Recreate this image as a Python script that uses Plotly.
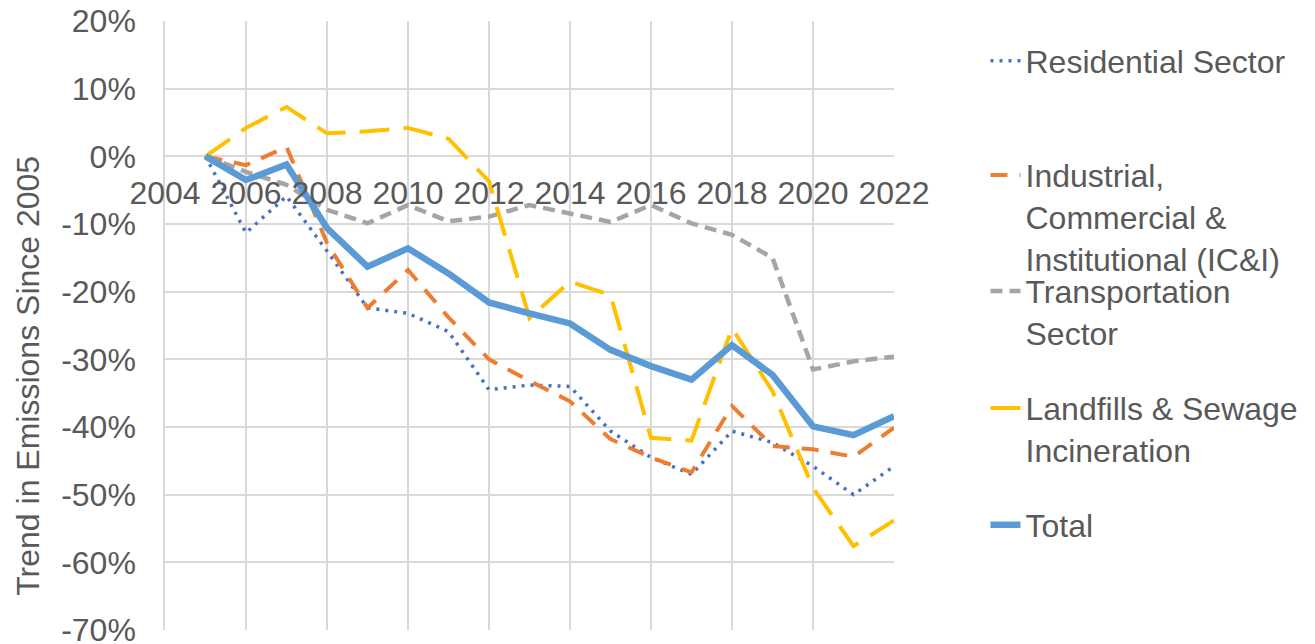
import plotly.graph_objects as go

# Emission trends by sector, percent change relative to 2005
years = list(range(2005, 2023))

residential = [0, -11.3, -5.9, -14.0, -22.4, -23.2, -25.9, -34.5, -33.8, -34.0,
               -40.6, -44.5, -47.0, -40.6, -42.3, -45.8, -50.0, -45.8]
industrial = [0, -1.3, 1.4, -12.8, -22.4, -16.8, -23.8, -30.0, -33.2, -36.2,
              -41.8, -44.5, -46.7, -36.9, -42.8, -43.3, -44.4, -40.1]
transportation = [0, -2.3, -4.2, -7.9, -9.9, -7.2, -9.6, -8.9, -7.2, -8.4,
                  -9.7, -7.2, -9.9, -11.6, -15.0, -31.5, -30.3, -29.6]
landfills = [0, 4.2, 7.3, 3.4, 3.7, 4.2, 2.6, -3.7, -23.9, -18.5,
             -20.5, -41.6, -42.0, -25.4, -34.7, -49.0, -57.6, -53.8]
total = [0, -3.5, -1.2, -10.6, -16.3, -13.6, -17.3, -21.6, -23.2, -24.7,
         -28.6, -31.0, -33.0, -27.9, -32.3, -39.9, -41.2, -38.4]

# Axis ticks (percent values, labelled with a plain hyphen minus)
y_ticks = [-70, -60, -50, -40, -30, -20, -10, 0, 10, 20]
y_tick_labels = ["-70%", "-60%", "-50%", "-40%", "-30%", "-20%", "-10%", "0%", "10%", "20%"]
x_ticks = [2004, 2006, 2008, 2010, 2012, 2014, 2016, 2018, 2020, 2022]

NB = "\u00a0"
series = [
    ("Residential Sector", residential, "#4472C4", 3.5, "3px,6px", "legend"),
    (f"{NB}<br>{NB}<br>Industrial,<br>Commercial &amp;<br>Institutional (IC&amp;I)",
     industrial, "#ED7D31", 4, "17px,12px", "legend2"),
    (f"{NB}<br>Transportation<br>Sector", transportation, "#A5A5A5", 4.5, "12px,7px", "legend3"),
    (f"{NB}<br>Landfills &amp; Sewage<br>Incineration", landfills, "#FFC000", 4, "30px,14px", "legend4"),
    ("Total", total, "#5B9BD5", 6.5, "solid", "legend5"),
]

FONT = "Liberation Sans, Arial, sans-serif"
TXT = "#595959"
GRID = "#D9D9D9"

fig = go.Figure()
for name, vals, color, width, dash, leg in series:
    fig.add_trace(go.Scatter(
        x=years, y=vals, name=name, mode="lines",
        line=dict(color=color, width=width, dash=dash),
        legend=leg,
    ))

# Plot area spans 165..898 px horizontally, 21..630 px vertically
L, R, T, B = 165, 898, 21, 630
W, H = 1315, 644
pw, ph = R - L, B - T

y_min, y_max = y_ticks[0], y_ticks[-1]
zero_pos = (0 - y_min) / (y_max - y_min)


def px_x(px):
    return (px - L) / pw


def px_y(py):
    return (B - py) / ph


legend_common = dict(
    xanchor="left", yanchor="middle", x=px_x(990),
    bgcolor="rgba(0,0,0,0)", borderwidth=0,
    font=dict(family=FONT, size=32, color=TXT),
)
legend_rows = {"legend": 61, "legend2": 175, "legend3": 291, "legend4": 408, "legend5": 525}

fig.update_layout(
    width=W, height=H, autosize=False,
    margin=dict(l=L, r=W - R, t=T, b=H - B, pad=0),
    paper_bgcolor="white", plot_bgcolor="white",
    font=dict(family=FONT, size=32, color=TXT),
    showlegend=True,
    xaxis=dict(
        range=[x_ticks[0], x_ticks[-1]], tickmode="array", tickvals=x_ticks,
        showgrid=True, gridcolor=GRID, gridwidth=1.5,
        showline=False, zeroline=False, ticks="",
        anchor="free", position=zero_pos,
        ticklabelstandoff=15, ticklabeloverflow="allow",
        tickfont=dict(family=FONT, size=32, color=TXT),
        automargin=False,
    ),
    yaxis=dict(
        range=[y_min, y_max], tickmode="array",
        tickvals=y_ticks, ticktext=y_tick_labels,
        showgrid=True, gridcolor=GRID, gridwidth=1.5,
        showline=True, linecolor=GRID, linewidth=1.5,
        zeroline=False, ticks="",
        ticklabelstandoff=21, ticklabeloverflow="allow",
        tickfont=dict(family=FONT, size=32, color=TXT),
        automargin=False,
    ),
    annotations=[dict(
        text="Trend in Emissions Since 2005", textangle=-90,
        xref="paper", yref="paper", x=px_x(27), y=px_y(376),
        xanchor="center", yanchor="middle", showarrow=False,
        font=dict(family=FONT, size=32, color=TXT),
    )],
)

for key, row in legend_rows.items():
    fig.update_layout({key: dict(legend_common, y=px_y(row))})

fig.write_html("out.html")
